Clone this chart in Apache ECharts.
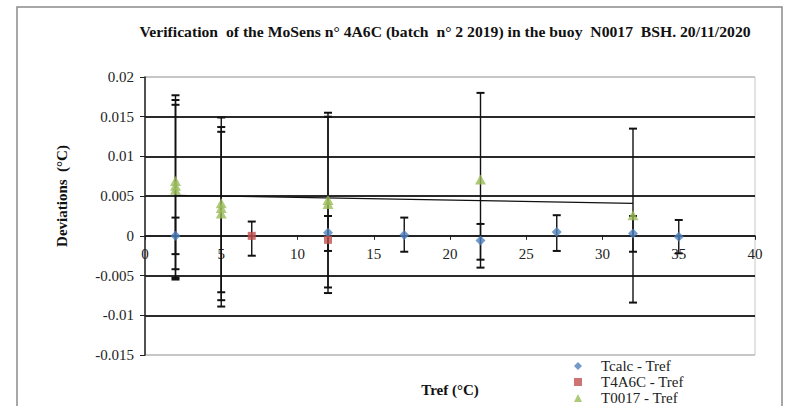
<!DOCTYPE html>
<html>
<head>
<meta charset="utf-8">
<script src="https://cdn.jsdelivr.net/npm/echarts@6/dist/echarts.min.js"></script>
<style>
  html, body { margin: 0; padding: 0; background: #ffffff; }
  #chart { width: 790px; height: 406px; }
</style>
</head>
<body>
<div id="chart"></div>
<script>
// Tcalc - Tref
const xTcalc  = [2, 12, 17, 22, 27, 32, 35];
const yTcalc  = [0.0000, 0.0004, 0.0001, -0.0006, 0.0005, 0.0003, -0.0001];
const loTcalc = [-0.0023, -0.0019, -0.0020, -0.0030, -0.0019, -0.0020, -0.0022];
const hiTcalc = [0.0023, 0.0025, 0.0023, 0.0015, 0.0026, 0.0025, 0.0020];

// T4A6C - Tref
const xT4A6C  = [7, 12];
const yT4A6C  = [0.0000, -0.0005];
const loT4A6C = [-0.0025, null];
const hiT4A6C = [0.0018, null];

// T0017 - Tref
const xT0017  = [2, 2, 2, 5, 5, 5, 12, 12, 22, 32];
const yT0017  = [0.0069, 0.0063, 0.0058, 0.0041, 0.0035, 0.0028, 0.0045, 0.0040, 0.0071, 0.0026];
const loT0017 = [-0.0042, -0.0053, -0.0055, -0.0071, -0.0081, -0.0089, -0.0065, -0.0072, -0.0040, -0.0084];
const hiT0017 = [0.0177, 0.0171, 0.0165, 0.0149, 0.0137, 0.0131, 0.0155, 0.0150, 0.0180, 0.0135];

// Linear trend of T0017 - Tref
const trendX = [2, 32];
const trendY = [0.0051, 0.0041];

const seriesNames = ['Tcalc - Tref', 'T4A6C - Tref', 'T0017 - Tref'];
const seriesIcons = ['diamond', 'rect', 'triangle'];
const titleText = 'Verification  of the MoSens n\u00b0 4A6C (batch  n\u00b0 2 2019) in the buoy  N0017  BSH. 20/11/2020';
const xName = 'Tref (\u00b0C)';
const yName = 'Deviations  (\u00b0C)';

const FONT = 'Liberation Serif';

function pts(xs, ys) { return xs.map((x, i) => [x, ys[i]]); }
function bars(xs, lo, hi) {
  const out = [];
  xs.forEach((x, i) => { if (lo[i] != null && hi[i] != null) out.push([x, lo[i], hi[i]]); });
  return out;
}

function errorBar(params, api) {
  const x = api.value(0);
  const top = api.coord([x, api.value(2)]);
  const bot = api.coord([x, api.value(1)]);
  const half = 4;
  const st = { stroke: '#111', lineWidth: 1.4 };
  const cap = { stroke: '#111', lineWidth: 2 };
  return {
    type: 'group',
    children: [
      { type: 'line', shape: { x1: top[0], y1: top[1], x2: bot[0], y2: bot[1] }, style: st },
      { type: 'line', shape: { x1: top[0] - half, y1: top[1], x2: top[0] + half, y2: top[1] }, style: cap },
      { type: 'line', shape: { x1: bot[0] - half, y1: bot[1], x2: bot[0] + half, y2: bot[1] }, style: cap }
    ]
  };
}

const allBars = bars(xTcalc, loTcalc, hiTcalc)
  .concat(bars(xT4A6C, loT4A6C, hiT4A6C))
  .concat(bars(xT0017, loT0017, hiT0017));

// one legend block per row, stacked under the plot
const legendRowsTop = [358, 374, 390];
const legends = seriesNames.map((name, i) => ({
  orient: 'vertical', left: 574, top: legendRowsTop[i], padding: 0,
  itemWidth: 8, itemHeight: 8,
  textStyle: { fontSize: 15, fontFamily: FONT, color: '#222', lineHeight: 16, padding: [0, 0, 0, 14] },
  data: [{ name: name, icon: seriesIcons[i] }]
}));

const chart = echarts.init(document.getElementById('chart'), null, { renderer: 'svg' });

const gridColors = ['#c6c6c6', '#2a2a2a', '#2a2a2a', '#2a2a2a', '#2a2a2a', '#2a2a2a', '#2a2a2a', '#c6c6c6'];
const GRID = { left: 145, right: 35, top: 77, bottom: 51 };

chart.setOption({
  backgroundColor: '#ffffff',
  animation: false,
  textStyle: { fontFamily: FONT },
  grid: Object.assign({ show: true, borderColor: '#c6c6c6', borderWidth: 1, backgroundColor: 'transparent' }, GRID),
  xAxis: {
    type: 'value', min: 0, max: 40, interval: 5, position: 'bottom',
    axisLine: { show: true, onZero: false, lineStyle: { color: '#222', width: 1.5 } },
    axisTick: { show: true, length: 4, lineStyle: { color: '#222' } },
    axisLabel: { color: '#222', fontSize: 15, fontFamily: FONT, margin: 11 },
    splitLine: { show: false }
  },
  yAxis: {
    type: 'value', min: -0.015, max: 0.02, interval: 0.005,
    axisLine: { show: true, lineStyle: { color: '#222', width: 1.5 } },
    axisTick: { show: true, length: 5, lineStyle: { color: '#222' } },
    axisLabel: {
      color: '#222', fontSize: 15, fontFamily: FONT, margin: 11,
      formatter: v => String(parseFloat(v.toFixed(3)))
    },
    splitLine: { show: true, lineStyle: { color: gridColors, width: 1.8 } }
  },
  legend: legends,
  graphic: [
    { type: 'rect', shape: { x: 17, y: 7, width: 765, height: 420 },
      style: { fill: 'none', stroke: '#8a8a8a', lineWidth: 1.5 }, silent: true },
    { type: 'text', x: 445, y: 32, scaleX: 1.12,
      style: { text: titleText, font: 'bold 14px "Liberation Serif"', fill: '#111', textAlign: 'center', textVerticalAlign: 'middle' } },
    { type: 'text', x: 62, y: 196, rotation: Math.PI / 2,
      style: { text: yName, font: 'bold 15px "Liberation Serif"', fill: '#111', textAlign: 'center', textVerticalAlign: 'middle' } },
    { type: 'text', x: 450, y: 390,
      style: { text: xName, font: 'bold 15px "Liberation Serif"', fill: '#111', textAlign: 'center', textVerticalAlign: 'middle' } }
  ],
  series: [
    {
      name: 'errors', type: 'custom', renderItem: errorBar,
      encode: { x: 0, y: [1, 2] }, data: allBars, z: 2, silent: true
    },
    {
      name: 'trend', type: 'line', data: pts(trendX, trendY), showSymbol: false,
      lineStyle: { color: '#111', width: 1.2 }, z: 2, silent: true
    },
    {
      name: seriesNames[0], type: 'scatter', data: pts(xTcalc, yTcalc),
      symbol: 'diamond', symbolSize: [10, 10], itemStyle: { color: '#4F81BD' }, z: 3
    },
    {
      name: seriesNames[1], type: 'scatter', data: pts(xT4A6C, yT4A6C),
      symbol: 'rect', symbolSize: 8, itemStyle: { color: '#C0504D' }, z: 3
    },
    {
      name: seriesNames[2], type: 'scatter', data: pts(xT0017, yT0017),
      symbol: 'triangle', symbolSize: [11, 10], itemStyle: { color: '#9BBB59' }, z: 4
    }
  ]
});

// The x axis (line, ticks and labels) crosses the y axis at zero:
// shift it up from the bottom of the grid to the y = 0 position.
const zeroY = chart.convertToPixel({ yAxisIndex: 0 }, 0);
const bottomY = chart.convertToPixel({ yAxisIndex: 0 }, -0.015);
chart.setOption({ xAxis: { offset: zeroY - bottomY } });
</script>
</body>
</html>
